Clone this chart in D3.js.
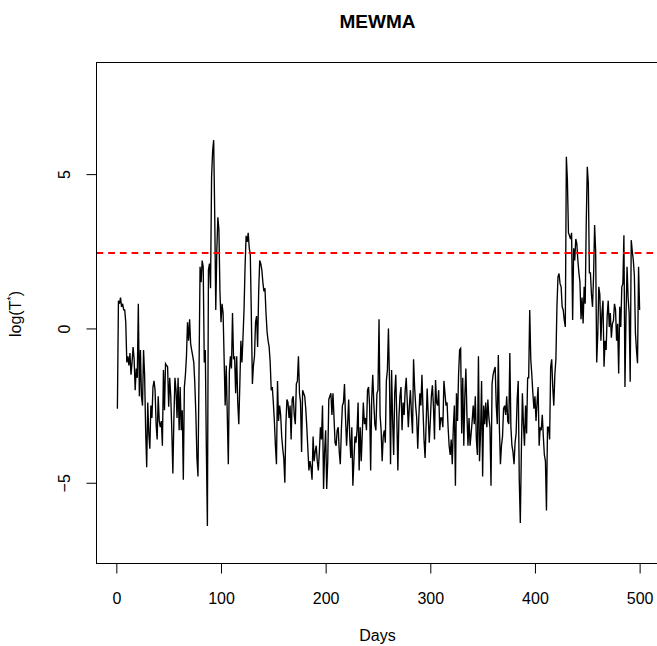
<!DOCTYPE html>
<html>
<head>
<meta charset="utf-8">
<script src="https://cdn.jsdelivr.net/npm/d3@7"></script>
<style>
  body { margin: 0; background: #fff; }
  svg { display: block; font-family: "Liberation Sans", Arial, sans-serif; }
</style>
</head>
<body>
<svg id="drawing_region"></svg>
<script>
// log(T*) per day
const logT = [
  -2.6, 0.9, 0.8, 1.0, 0.7, 0.8, 0.6, 0.6, 0.2, -1.1,
  -0.9, -1.2, -0.8, -1.5, -1.1, -0.6, -1.0, -2.0, -1.3, -1.6,
  0.8, -2.2, -0.7, -2.2, -2.5, -0.7, -1.5, -3.3, -4.5, -2.4,
  -3.4, -3.9, -2.5, -2.9, -1.9, -1.7, -2.0, -3.1, -3.6, -2.2,
  -3.0, -3.2, -3.0, -3.8, -1.35, -2.65, -1.14, -1.2, -1.25, -2.54,
  -1.6, -2.2, -3.3, -4.7, -2.9, -1.6, -2.0, -2.9, -1.6, -3.3,
  -1.9, -3.3, -2.65, -4.9, -1.9, -1.5, -0.9, 0.2, -0.4, 0.3,
  -0.5, -0.7, -0.9, -1.1, -1.8, -2.8, -4.2, -4.8, -1.4, 2.0,
  1.5, 2.2, 2.0, -1.1, -0.7, -3.9, -6.4, 1.9, 2.1, 1.3,
  4.9, 5.75, 6.1, 3.7, 0.6, 2.5, 3.6, 3.2, 1.2, 0.2,
  0.8, 0.5, -1.0, -2.5, -1.2, -2.8, -4.4, -1.4, -0.9, -1.3,
  0.5, -1.0, -0.9, -2.1, -0.9, -2.4, -3.1, -1.8, -0.4, -1.1,
  -0.3, 0.6, 2.0, 3.0, 2.8, 3.1, 2.6, 2.4, 0.4, -1.8,
  -1.2, -0.9, 0.2, 0.4, -0.6, 1.2, 2.2, 2.1, 1.9, 1.5,
  1.2, 1.3, 0.5, -0.1, -0.4, -0.6, -1.1, -2.0, -1.9, -2.4,
  -3.0, -3.8, -4.4, -1.7, -3.0, -2.5, -2.8, -3.5, -3.9, -4.2,
  -5.0, -3.1, -2.3, -2.4, -2.9, -2.5, -3.6, -2.3, -2.2, -2.8,
  -3.1, -1.8, -1.7, -0.9, -2.1, -2.4, -4.0, -2.0, -2.1, -2.2,
  -2.6, -3.2, -3.9, -4.6, -4.3, -4.5, -4.9, -3.5, -4.3, -4.0,
  -3.8, -4.3, -4.6, -4.0, -3.2, -3.6, -2.5, -5.2, -4.0, -3.3,
  -5.2, -4.3, -2.3, -2.2, -2.1, -2.8, -2.1, -2.9, -3.7, -3.8,
  -3.3, -3.2, -4.0, -4.4, -3.3, -2.5, -2.4, -1.8, -2.9, -3.8,
  -3.1, -2.3, -3.5, -4.2, -3.2, -5.1, -4.3, -3.5, -3.7, -3.3,
  -2.4, -4.6, -3.2, -4.3, -3.4, -2.4, -3.1, -2.9, -3.3, -2.0,
  -1.9, -2.5, -4.6, -2.3, -1.5, -2.4, -3.1, -3.3, -2.1, -2.0,
  0.3, -2.8, -3.3, -4.3, -3.5, -3.3, -3.7, -1.7, -1.35, 0.0,
  -1.7, -4.4, -1.35, -3.0, -4.1, -2.1, -1.5, -2.9, -4.6, -2.9,
  -2.2, -1.9, -3.3, -2.4, -2.8, -2.0, -1.6, -2.4, -3.2, -2.5,
  -2.0, -2.8, -3.4, -1.0, -1.9, -2.5, -2.9, -3.9, -2.9, -2.1,
  -2.5, -1.5, -2.6, -3.6, -4.2, -3.1, -1.95, -2.8, -3.7, -3.0,
  -2.2, -1.84, -2.5, -3.6, -1.67, -2.4, -2.5, -2.0, -3.3, -2.9,
  -2.9, -3.2, -1.7, -2.1, -2.5, -2.4, -3.2, -3.8, -4.1, -3.6,
  -4.4, -3.2, -2.5, -5.1, -2.1, -3.0, -1.5, -0.7, -0.65, -3.4,
  -1.6, -3.8, -2.2, -1.3, -2.8, -3.8, -2.9, -3.8, -3.4, -3.0,
  -2.5, -3.1, -2.2, -3.6, -4.1, -0.9, -4.3, -3.4, -1.7, -4.8,
  -2.5, -3.1, -2.4, -3.2, -2.3, -2.9, -3.2, -5.1, -1.8, -1.5,
  -1.35, -1.25, -2.5, -3.1, -0.86, -3.2, -4.4, -3.8, -3.5, -2.6,
  -2.5, -2.8, -2.2, -3.0, -3.1, -0.8, -3.2, -3.8, -4.0, -4.4,
  -3.7, -3.4, -2.3, -1.7, -4.9, -6.3, -4.0, -2.1, -3.1, -3.8,
  -2.5, -3.4, -1.6, -1.6, 0.6, -1.0, -1.5, -2.1, -2.6, -2.2,
  -3.0, -2.4, -1.9, -3.8, -3.2, -3.3, -2.8, -3.5, -4.1, -4.3,
  -5.9, -3.2, -3.2, -3.6, -1.25, -1.0, -1.9, -2.5, -1.5, -1.0,
  0.7, 1.67, 1.78, 1.45, 1.35, 0.7, 0.6, 0.27, 0.05, 5.56,
  4.8, 3.1, 3.0, 2.9, 3.1, 0.27, 2.6, 2.2, 2.9, 2.75,
  2.2, 1.8, 1.5, 0.3, 1.0, 0.16, 1.35, 0.8, 3.4, 5.24,
  4.7, 1.8, 1.8, 1.1, 0.7, 1.7, 3.35, 2.5, -1.1, -0.2,
  1.35, 1.1, -0.4, 0.5, 0.9, -1.24, -0.4, -0.7, 0.4, 0.9,
  0.05, 0.5, -0.3, 0.15, 0.25, 0.8, 0.6, -0.4, 0.15, -1.46,
  0.7, 0.05, 1.35, 1.45, 3.02, -1.9, 0.4, 2.0, 1.0, 0.5,
  -1.73, 2.86, 2.5, 2.2, 1.7, -0.15, -0.7, -1.13, 2.0, 0.6
];
const days = logT.map((v, i) => i + 1);

const controlLimit = 2.43;
const xTicks = [0, 100, 200, 300, 400, 500];
const yTicks = [-5, 0, 5];

const width  = 657;
const height = 646;
// plot box (right edge runs past the window, as in the original)
const box = { left: 96.5, right: 660.5, top: 63, bottom: 563 };

const svg = d3.select('#drawing_region')
    .attr('width', width)
    .attr('height', height);

const xscale = d3.scaleLinear()
    .domain([-18.96, 519.96])
    .range([box.left, box.right]);

const yscale = d3.scaleLinear()
    .domain([-7.6, 8.6])
    .range([box.bottom, box.top]);

// series
const line = d3.line()
    .x((d, i) => xscale(days[i]))
    .y(d => yscale(d));

svg.append('path')
    .datum(logT)
    .attr('d', line)
    .attr('fill', 'none')
    .attr('stroke', '#000')
    .attr('stroke-width', 1.35)
    .attr('stroke-linejoin', 'miter');

// control limit
const ylim = Math.round(yscale(controlLimit));
svg.append('line')
    .attr('x1', box.left)
    .attr('x2', box.right)
    .attr('y1', ylim)
    .attr('y2', ylim)
    .attr('stroke', '#ff0000')
    .attr('stroke-width', 2)
    .attr('stroke-dasharray', '6.7,5');

// frame
svg.append('rect')
    .attr('x', box.left)
    .attr('y', box.top - 0.5)
    .attr('width', box.right - box.left)
    .attr('height', box.bottom - box.top + 1)
    .attr('fill', 'none')
    .attr('stroke', '#000')
    .attr('stroke-width', 1);

// x axis
const xaxis = svg.append('g')
    .attr('transform', `translate(0, ${box.bottom + 0.5})`)
    .call(d3.axisBottom(xscale).tickValues(xTicks).tickSize(10).tickPadding(19));
xaxis.select('.domain').remove();
xaxis.selectAll('line').attr('stroke', '#000');
xaxis.selectAll('text')
    .attr('font-size', '16px')
    .attr('font-family', '"Liberation Sans", Arial, sans-serif')
    .attr('fill', '#000');

// y axis
const yaxis = svg.append('g')
    .attr('transform', `translate(${box.left}, 0)`)
    .call(d3.axisLeft(yscale).tickValues(yTicks).tickSize(10));
yaxis.select('.domain').remove();
yaxis.selectAll('line').attr('stroke', '#000');
yaxis.selectAll('text')
    .attr('x', null)
    .attr('dy', null)
    .attr('text-anchor', 'middle')
    .attr('transform', 'translate(-26.5, 0) rotate(-90)')
    .attr('font-size', '16px')
    .attr('font-family', '"Liberation Sans", Arial, sans-serif')
    .attr('fill', '#000');

// title and axis labels
svg.append('text')
    .attr('x', 377.5)
    .attr('y', 28)
    .attr('text-anchor', 'middle')
    .attr('font-size', '19px')
    .attr('font-weight', 'bold')
    .text('MEWMA');

svg.append('text')
    .attr('x', 377.5)
    .attr('y', 641)
    .attr('text-anchor', 'middle')
    .attr('font-size', '16px')
    .text('Days');

const ylab = svg.append('text')
    .attr('transform', 'translate(21, 314) rotate(-90)')
    .attr('text-anchor', 'middle')
    .attr('font-size', '16px');
ylab.append('tspan').text('log(T');
ylab.append('tspan').attr('dy', -6).attr('font-size', '11px').text('*');
ylab.append('tspan').attr('dy', 6).text(')');
</script>
</body>
</html>
